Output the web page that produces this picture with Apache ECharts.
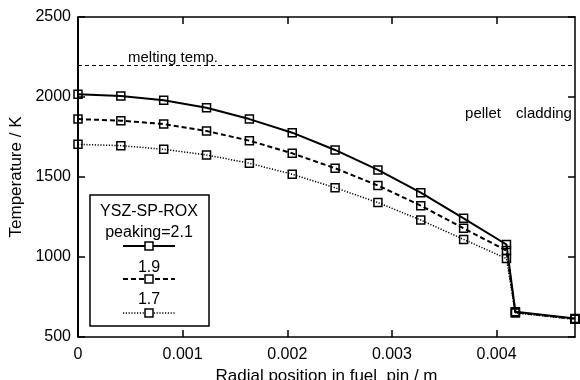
<!DOCTYPE html>
<html><head><meta charset="utf-8">
<script src="https://cdn.jsdelivr.net/npm/echarts@6/dist/echarts.min.js"></script>
<style>html,body{margin:0;padding:0;background:#fff}#c{width:580px;height:380px}</style>
</head><body><div id="c"></div>
<script>
// radial positions (m)
const radius = [0, 0.0004095, 0.000819, 0.0012285, 0.001638, 0.0020475, 0.002457, 0.0028665, 0.003276, 0.0036855, 0.004095, 0.00418, 0.00475];
// temperatures (K)
const peak21 = [2017, 2006, 1979, 1933, 1862, 1777, 1669, 1544, 1402, 1242, 1078, 658, 615];
const peak19 = [1862, 1852, 1831, 1787, 1727, 1648, 1555, 1447, 1321, 1179, 1040, 654, 613];
const peak17 = [1704, 1696, 1673, 1638, 1586, 1517, 1433, 1340, 1231, 1110, 990, 650, 611];
const meltingTemp = 2200;
const boundaries = [0.004095, 0.00418];
const xTicks = [0, 0.001, 0.002, 0.003, 0.004];
const yTicks = [500, 1000, 1500, 2000, 2500];
const seriesNames = ['peaking=2.1', '1.9', '1.7'];

const FONT = "'Liberation Sans', Arial, sans-serif";
const chart = echarts.init(document.getElementById('c'), null, {renderer: 'canvas'});

function xAx(pos, show) {
  return {
    type: 'value', position: pos, min: 0, max: 0.00475, interval: 0.001,
    axisLine: {show: true, onZero: false, lineStyle: {color: '#000', width: 1.5}},
    axisTick: {show: true, inside: true, length: 7, customValues: xTicks, lineStyle: {color: '#000', width: 1.5}},
    axisLabel: {show: show, customValues: xTicks, color: '#000', fontSize: 16, fontFamily: FONT, margin: 10,
      formatter: v => String(+v.toFixed(3))},
    splitLine: {show: false},
    name: show ? 'Radial position in fuel  pin / m' : '',
    nameLocation: 'middle', nameGap: 31,
    nameTextStyle: {color: '#000', fontSize: 17, fontFamily: FONT}
  };
}
function yAx(pos, show) {
  return {
    type: 'value', position: pos, min: 500, max: 2500, interval: 500,
    axisLine: {show: true, onZero: false, lineStyle: {color: '#000', width: 1.5}},
    axisTick: {show: true, inside: true, length: 7, customValues: yTicks, lineStyle: {color: '#000', width: 1.5}},
    axisLabel: {show: show, customValues: yTicks, color: '#000', fontSize: 16, fontFamily: FONT, margin: 7,
      formatter: v => String(v)},
    splitLine: {show: false},
    name: show ? 'Temperature / K' : '',
    nameLocation: 'middle', nameGap: 45, nameRotate: 90,
    nameTextStyle: {color: '#000', fontSize: 17, fontFamily: FONT}
  };
}

function mkSeries(name, vals, lineType, width) {
  return {
    name: name, type: 'line', xAxisIndex: 0, yAxisIndex: 0,
    data: radius.map((x, i) => [x, vals[i]]),
    symbol: 'rect', symbolSize: 8,
    itemStyle: {color: 'rgba(0,0,0,0)', borderColor: '#000', borderWidth: 1.5},
    lineStyle: {color: '#000', width: width, type: lineType},
    emphasis: {disabled: true}, animation: false, z: 3
  };
}

const series = [
  mkSeries(seriesNames[0], peak21, 'solid', 2),
  mkSeries(seriesNames[1], peak19, [5, 3], 2),
  mkSeries(seriesNames[2], peak17, [1.2, 1.6], 1.5),
  {
    type: 'line', data: [], silent: true, animation: false,
    markLine: {
      symbol: 'none', silent: true, animation: false, label: {show: false},
      data: [
        {yAxis: meltingTemp, lineStyle: {color: '#000', width: 1, type: [4, 3]}},
        {xAxis: boundaries[0], lineStyle: {color: '#000', width: 1.5, type: 'solid'}},
        {xAxis: boundaries[1], lineStyle: {color: '#000', width: 1.5, type: 'solid'}}
      ]
    }
  }
];

// legend drawn as graphic
const lg = {x: 90, y: 195, w: 119, h: 131, cx: 149};
const legendRows = [
  {label: seriesNames[0], ty: 233, ly: 246, dash: null, w: 2},
  {label: seriesNames[1], ty: 268, ly: 279, dash: [5, 3], w: 2},
  {label: seriesNames[2], ty: 300, ly: 313, dash: [1.2, 1.6], w: 1.5}
];
const graphic = [
  {type: 'rect', shape: {x: lg.x, y: lg.y, width: lg.w, height: lg.h}, style: {fill: '#fff', stroke: '#000', lineWidth: 1.5}, z: 10},
  {type: 'text', x: lg.cx, y: 212, style: {text: 'YSZ-SP-ROX', font: '16px ' + FONT, fill: '#000', align: 'center', verticalAlign: 'middle'}, z: 11},
  {type: 'text', x: 173, y: 58, style: {text: 'melting temp.', font: '15px ' + FONT, fill: '#000', align: 'center', verticalAlign: 'middle'}, z: 11},
  {type: 'text', x: 483, y: 114, style: {text: 'pellet', font: '15px ' + FONT, fill: '#000', align: 'center', verticalAlign: 'middle'}, z: 11},
  {type: 'text', x: 544, y: 114, style: {text: 'cladding', font: '15px ' + FONT, fill: '#000', align: 'center', verticalAlign: 'middle'}, z: 11}
];
legendRows.forEach(r => {
  graphic.push({type: 'text', x: lg.cx, y: r.ty, style: {text: r.label, font: '16px ' + FONT, fill: '#000', align: 'center', verticalAlign: 'middle'}, z: 11});
  graphic.push({type: 'line', shape: {x1: 123, y1: r.ly, x2: 175, y2: r.ly}, style: {stroke: '#000', lineWidth: r.w, lineDash: r.dash}, z: 11});
  graphic.push({type: 'rect', shape: {x: lg.cx - 4, y: r.ly - 4, width: 8, height: 8}, style: {fill: '#fff', stroke: '#000', lineWidth: 1.5}, z: 12});
});

chart.setOption({
  animation: false,
  backgroundColor: '#fff',
  grid: {left: 78, right: 5, top: 17, bottom: 43, containLabel: false, outerBoundsMode: 'none'},
  xAxis: [xAx('bottom', true), xAx('top', false)],
  yAxis: [yAx('left', true), yAx('right', false)],
  series: series,
  graphic: graphic
});
</script>
</body></html>
